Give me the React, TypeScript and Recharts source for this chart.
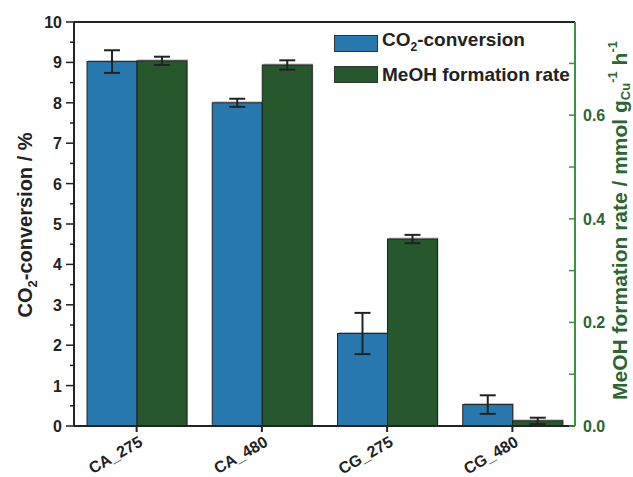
import { BarChart, Bar, XAxis, YAxis, ErrorBar, ReferenceLine, Legend } from 'recharts'

const categories = ['CA_275', 'CA_480', 'CG_275', 'CG_480']
const co2Conversion = [9.02, 8.0, 2.29, 0.53]
const co2Error = [0.28, 0.1, 0.51, 0.23]
const meohRate = [0.705, 0.697, 0.361, 0.01]
const meohError = [0.008, 0.009, 0.008, 0.006]

const leftTicks = [0, 0.5, 1, 1.5, 2, 2.5, 3, 3.5, 4, 4.5, 5, 5.5, 6, 6.5, 7, 7.5, 8, 8.5, 9, 9.5, 10]
const rightTicks = [0, 0.1, 0.2, 0.3, 0.4, 0.5, 0.6, 0.7]
const rightMajor = ['0.0', '0.2', '0.4', '0.6']

const data = categories.map((name, i) => ({
  name,
  co2: co2Conversion[i],
  co2Err: co2Error[i],
  meoh: meohRate[i],
  meohErr: meohError[i],
}))

const FONT = '"Liberation Sans", Arial, sans-serif'
const BLUE = '#2878b0'
const GREEN = '#27582d'
const GREEN_AXIS = '#3a9441'
const GREEN_TEXT = '#2b6530'

const BarShape = (props: any) => {
  const { x, y, width, height, fill } = props
  if (height <= 0) return null
  return (
    <g>
      <rect x={x + 1} y={y - 1.5} width={width} height={height + 1.5} fill="#bdbdbd" />
      <rect x={x} y={y} width={width} height={height} fill={fill} stroke="#222" strokeWidth={1} />
    </g>
  )
}

const LeftTick = (props: any) => {
  const { x, y, payload } = props
  const v = payload.value
  const major = Number.isInteger(v)
  return (
    <g>
      <line x1={x} x2={x - (major ? 8 : 4)} y1={y} y2={y} stroke="#222" strokeWidth={1.5} />
      {major && (
        <text x={x - 12} y={y} dy={6} textAnchor="end" fontFamily={FONT} fontWeight="bold" fontSize={16} fill="#222">
          {v}
        </text>
      )}
    </g>
  )
}

const RightTick = (props: any) => {
  const { x, y, payload } = props
  const label = payload.value.toFixed(1)
  const major = rightMajor.includes(label)
  return (
    <g>
      <line x1={x} x2={x - 6} y1={y} y2={y} stroke={GREEN_AXIS} strokeWidth={1.5} />
      {major && (
        <text x={x + 8} y={y} dy={6} textAnchor="start" fontFamily={FONT} fontWeight="bold" fontSize={16} fill={GREEN_TEXT}>
          {label}
        </text>
      )}
    </g>
  )
}

const CategoryTick = (props: any) => {
  const { x, y, payload } = props
  return (
    <text
      x={x + 7}
      y={y + 11}
      textAnchor="end"
      transform={`rotate(-30, ${x + 7}, ${y + 11})`}
      fontFamily={FONT}
      fontWeight="bold"
      fontSize={16}
      fill="#222"
    >
      {payload.value}
    </text>
  )
}

const LeftLabel = () => (
  <text
    x={32}
    y={225}
    textAnchor="middle"
    transform="rotate(-90, 32, 225)"
    fontFamily={FONT}
    fontWeight="bold"
    fontSize={20}
    fill="#222"
  >
    CO<tspan fontSize={13} dy={5}>2</tspan>
    <tspan dy={-5}>-conversion / %</tspan>
  </text>
)

const RightLabel = () => (
  <text
    x={627}
    y={400}
    textAnchor="start"
    transform="rotate(-90, 627, 400)"
    fontFamily={FONT}
    fontWeight="bold"
    fontSize={21}
    fill={GREEN_TEXT}
  >
    MeOH formation rate / mmol g<tspan fontSize={13} dy={3}>Cu</tspan>
    <tspan fontSize={13} dy={-13}>-1</tspan>
    <tspan dy={10}> h</tspan>
    <tspan fontSize={13} dy={-10}>-1</tspan>
  </text>
)

const LegendContent = () => (
  <div style={{ fontFamily: FONT, fontWeight: 'bold', fontSize: 19, color: '#222', lineHeight: '27px' }}>
    <div style={{ display: 'flex', alignItems: 'center' }}>
      <span style={{ width: 42, height: 15, background: BLUE, border: '1px solid #333', marginRight: 4 }} />
      <span>
        CO<sub style={{ fontSize: 12 }}>2</sub>-conversion
      </span>
    </div>
    <div style={{ display: 'flex', alignItems: 'center' }}>
      <span style={{ width: 42, height: 15, background: GREEN, border: '1px solid #333', marginRight: 4 }} />
      <span style={{ whiteSpace: 'nowrap' }}>MeOH formation rate</span>
    </div>
  </div>
)

export default function App() {
  return (
    <div style={{ position: 'absolute', left: 0, top: 0, background: '#fff' }}>
      <BarChart
        width={633}
        height={477}
        data={data}
        margin={{ top: 22, right: 0, left: 0, bottom: 0 }}
        barSize={50}
        barGap={0}
      >
        <XAxis
          dataKey="name"
          height={51}
          axisLine={{ stroke: '#222', strokeWidth: 2 }}
          tickLine={{ stroke: '#222', strokeWidth: 2 }}
          tickSize={6}
          tickMargin={2}
          tick={<CategoryTick />}
          interval={0}
        />
        <YAxis
          yAxisId="left"
          width={74}
          domain={[0, 10]}
          ticks={leftTicks}
          interval={0}
          tickSize={0}
          tickMargin={0}
          tickLine={false}
          axisLine={{ stroke: '#222', strokeWidth: 2 }}
          tick={<LeftTick />}
          label={<LeftLabel />}
        />
        <YAxis
          yAxisId="right"
          orientation="right"
          width={58}
          domain={[0, 0.78]}
          ticks={rightTicks}
          interval={0}
          tickSize={0}
          tickMargin={0}
          tickLine={false}
          axisLine={{ stroke: GREEN_AXIS, strokeWidth: 2 }}
          tick={<RightTick />}
          label={<RightLabel />}
        />
        <ReferenceLine yAxisId="left" y={10} stroke="#222" strokeWidth={2} />
        <Legend
          layout="horizontal"
          align="center"
          verticalAlign="middle"
          content={<LegendContent />}
          wrapperStyle={{ top: 26, left: 334, width: 'auto' }}
        />
        <Bar yAxisId="left" dataKey="co2" fill={BLUE} shape={BarShape} isAnimationActive={false}>
          <ErrorBar dataKey="co2Err" width={8} strokeWidth={2} stroke="#222" />
        </Bar>
        <Bar yAxisId="right" dataKey="meoh" fill={GREEN} shape={BarShape} isAnimationActive={false}>
          <ErrorBar dataKey="meohErr" width={8} strokeWidth={2} stroke="#222" />
        </Bar>
      </BarChart>
    </div>
  )
}
